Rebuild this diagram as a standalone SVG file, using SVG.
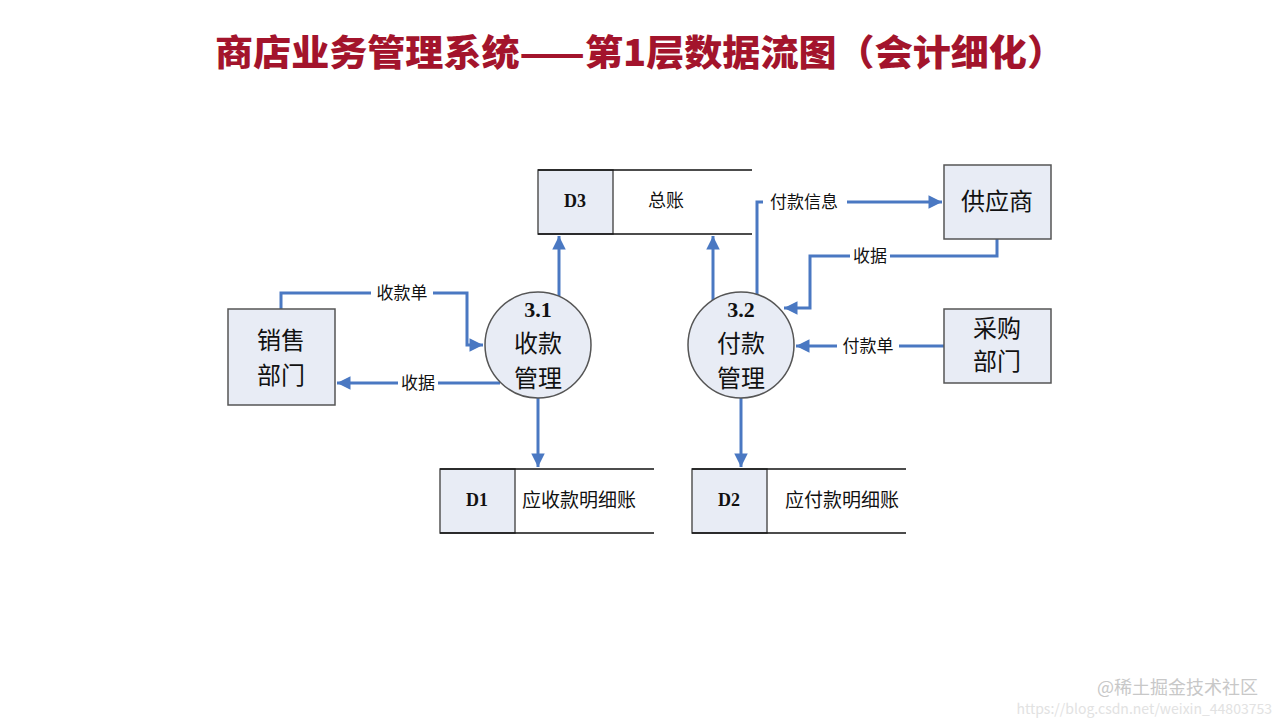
<svg xmlns="http://www.w3.org/2000/svg" width="1280" height="720" viewBox="0 0 1280 720">
<style>
.box{fill:#e8ecf5;stroke:#555;stroke-width:1.5}
.line{fill:none;stroke:#4a78c2;stroke-width:3}
.st{stroke:#111;stroke-width:1.3}
.cn{font-family:"Liberation Serif","Noto Sans CJK SC",serif;fill:#111}
.lbl{font-family:"Liberation Serif","Noto Sans CJK SC",serif;font-size:17px;fill:#111;text-anchor:middle}
.bg{fill:#fff}
</style>
<defs>
<marker id="ar" viewBox="0 0 10 10" refX="10" refY="5" markerWidth="5" markerHeight="4.5" orient="auto" markerUnits="strokeWidth">
<path d="M0,0 L10,5 L0,10 z" fill="#4a78c2"/>
</marker>
</defs>
<rect width="1280" height="720" fill="#fff"/>
<text x="215" y="66" font-family="Noto Sans CJK SC, sans-serif" font-weight="900" font-size="36" fill="#a3142c" textLength="850" lengthAdjust="spacingAndGlyphs">商店业务管理系统——第1层数据流图（会计细化）</text>

<g id="connectors">
<polyline class="line" points="281,309 281,293 467,293 467,345 483,345" marker-end="url(#ar)"/>
<polyline class="line" points="500,383 337,383" marker-end="url(#ar)"/>
<polyline class="line" points="559,296 559,236" marker-end="url(#ar)"/>
<polyline class="line" points="538,398 538,467" marker-end="url(#ar)"/>
<polyline class="line" points="713,300 713,236" marker-end="url(#ar)"/>
<polyline class="line" points="757,297 757,202 942,202" marker-end="url(#ar)"/>
<polyline class="line" points="997,239 997,256 810,256 810,308 784,308" marker-end="url(#ar)"/>
<polyline class="line" points="944,346 796,346" marker-end="url(#ar)"/>
<polyline class="line" points="741,398 741,467" marker-end="url(#ar)"/>
<rect class="bg" x="371" y="283" width="62" height="20"/>
<text class="lbl" x="402" y="299">收款单</text>
<rect class="bg" x="398" y="373" width="40" height="20"/>
<text class="lbl" x="418" y="389">收据</text>
<rect class="bg" x="763" y="192" width="84" height="20"/>
<text class="lbl" x="804" y="208">付款信息</text>
<rect class="bg" x="850" y="246" width="40" height="20"/>
<text class="lbl" x="870" y="262">收据</text>
<rect class="bg" x="837" y="336" width="62" height="20"/>
<text class="lbl" x="868" y="352">付款单</text>
</g>

<g id="D3">
<rect class="box" x="538" y="170" width="75" height="64"/>
<line class="st" x1="538" y1="170" x2="752" y2="170"/>
<line class="st" x1="538" y1="234" x2="752" y2="234"/>
<text class="cn" x="575" y="207" text-anchor="middle" font-size="18" font-weight="bold">D3</text>
<text class="cn" x="666" y="207" text-anchor="middle" font-size="18">总账</text>
</g>

<g id="D1">
<rect class="box" x="440" y="469" width="75" height="64"/>
<line class="st" x1="440" y1="469" x2="654" y2="469"/>
<line class="st" x1="440" y1="533" x2="654" y2="533"/>
<text class="cn" x="477" y="506" text-anchor="middle" font-size="18" font-weight="bold">D1</text>
<text class="cn" x="579" y="507" text-anchor="middle" font-size="19">应收款明细账</text>
</g>

<g id="D2">
<rect class="box" x="692" y="469" width="75" height="64"/>
<line class="st" x1="692" y1="469" x2="906" y2="469"/>
<line class="st" x1="692" y1="533" x2="906" y2="533"/>
<text class="cn" x="729" y="506" text-anchor="middle" font-size="18" font-weight="bold">D2</text>
<text class="cn" x="842" y="507" text-anchor="middle" font-size="19">应付款明细账</text>
</g>

<g id="p31">
<circle class="box" cx="538" cy="345" r="53"/>
<text class="cn" x="538" y="317" text-anchor="middle" font-size="22" font-weight="bold">3.1</text>
<text class="cn" x="538" y="352" text-anchor="middle" font-size="24">收款</text>
<text class="cn" x="538" y="387" text-anchor="middle" font-size="24">管理</text>
</g>

<g id="p32">
<circle class="box" cx="741" cy="345" r="53"/>
<text class="cn" x="741" y="317" text-anchor="middle" font-size="22" font-weight="bold">3.2</text>
<text class="cn" x="741" y="352" text-anchor="middle" font-size="24">付款</text>
<text class="cn" x="741" y="387" text-anchor="middle" font-size="24">管理</text>
</g>

<g id="sales">
<rect class="box" x="228" y="309" width="107" height="96"/>
<text class="cn" x="281" y="349" text-anchor="middle" font-size="24">销售</text>
<text class="cn" x="281" y="384" text-anchor="middle" font-size="24">部门</text>
</g>

<g id="supplier">
<rect class="box" x="944" y="165" width="107" height="74"/>
<text class="cn" x="997" y="210" text-anchor="middle" font-size="24">供应商</text>
</g>

<g id="purchase">
<rect class="box" x="944" y="309" width="107" height="74"/>
<text class="cn" x="997" y="337" text-anchor="middle" font-size="24">采购</text>
<text class="cn" x="997" y="370" text-anchor="middle" font-size="24">部门</text>
</g>

<g id="watermark" font-family="Noto Sans CJK SC, sans-serif" text-anchor="end">
<text x="1258" y="694" font-size="18" fill="#c8c8c8">@稀土掘金技术社区</text>
<text x="1272" y="714" font-size="14" fill="#e2e2e2">https://blog.csdn.net/weixin_44803753</text>
</g>
</svg>
